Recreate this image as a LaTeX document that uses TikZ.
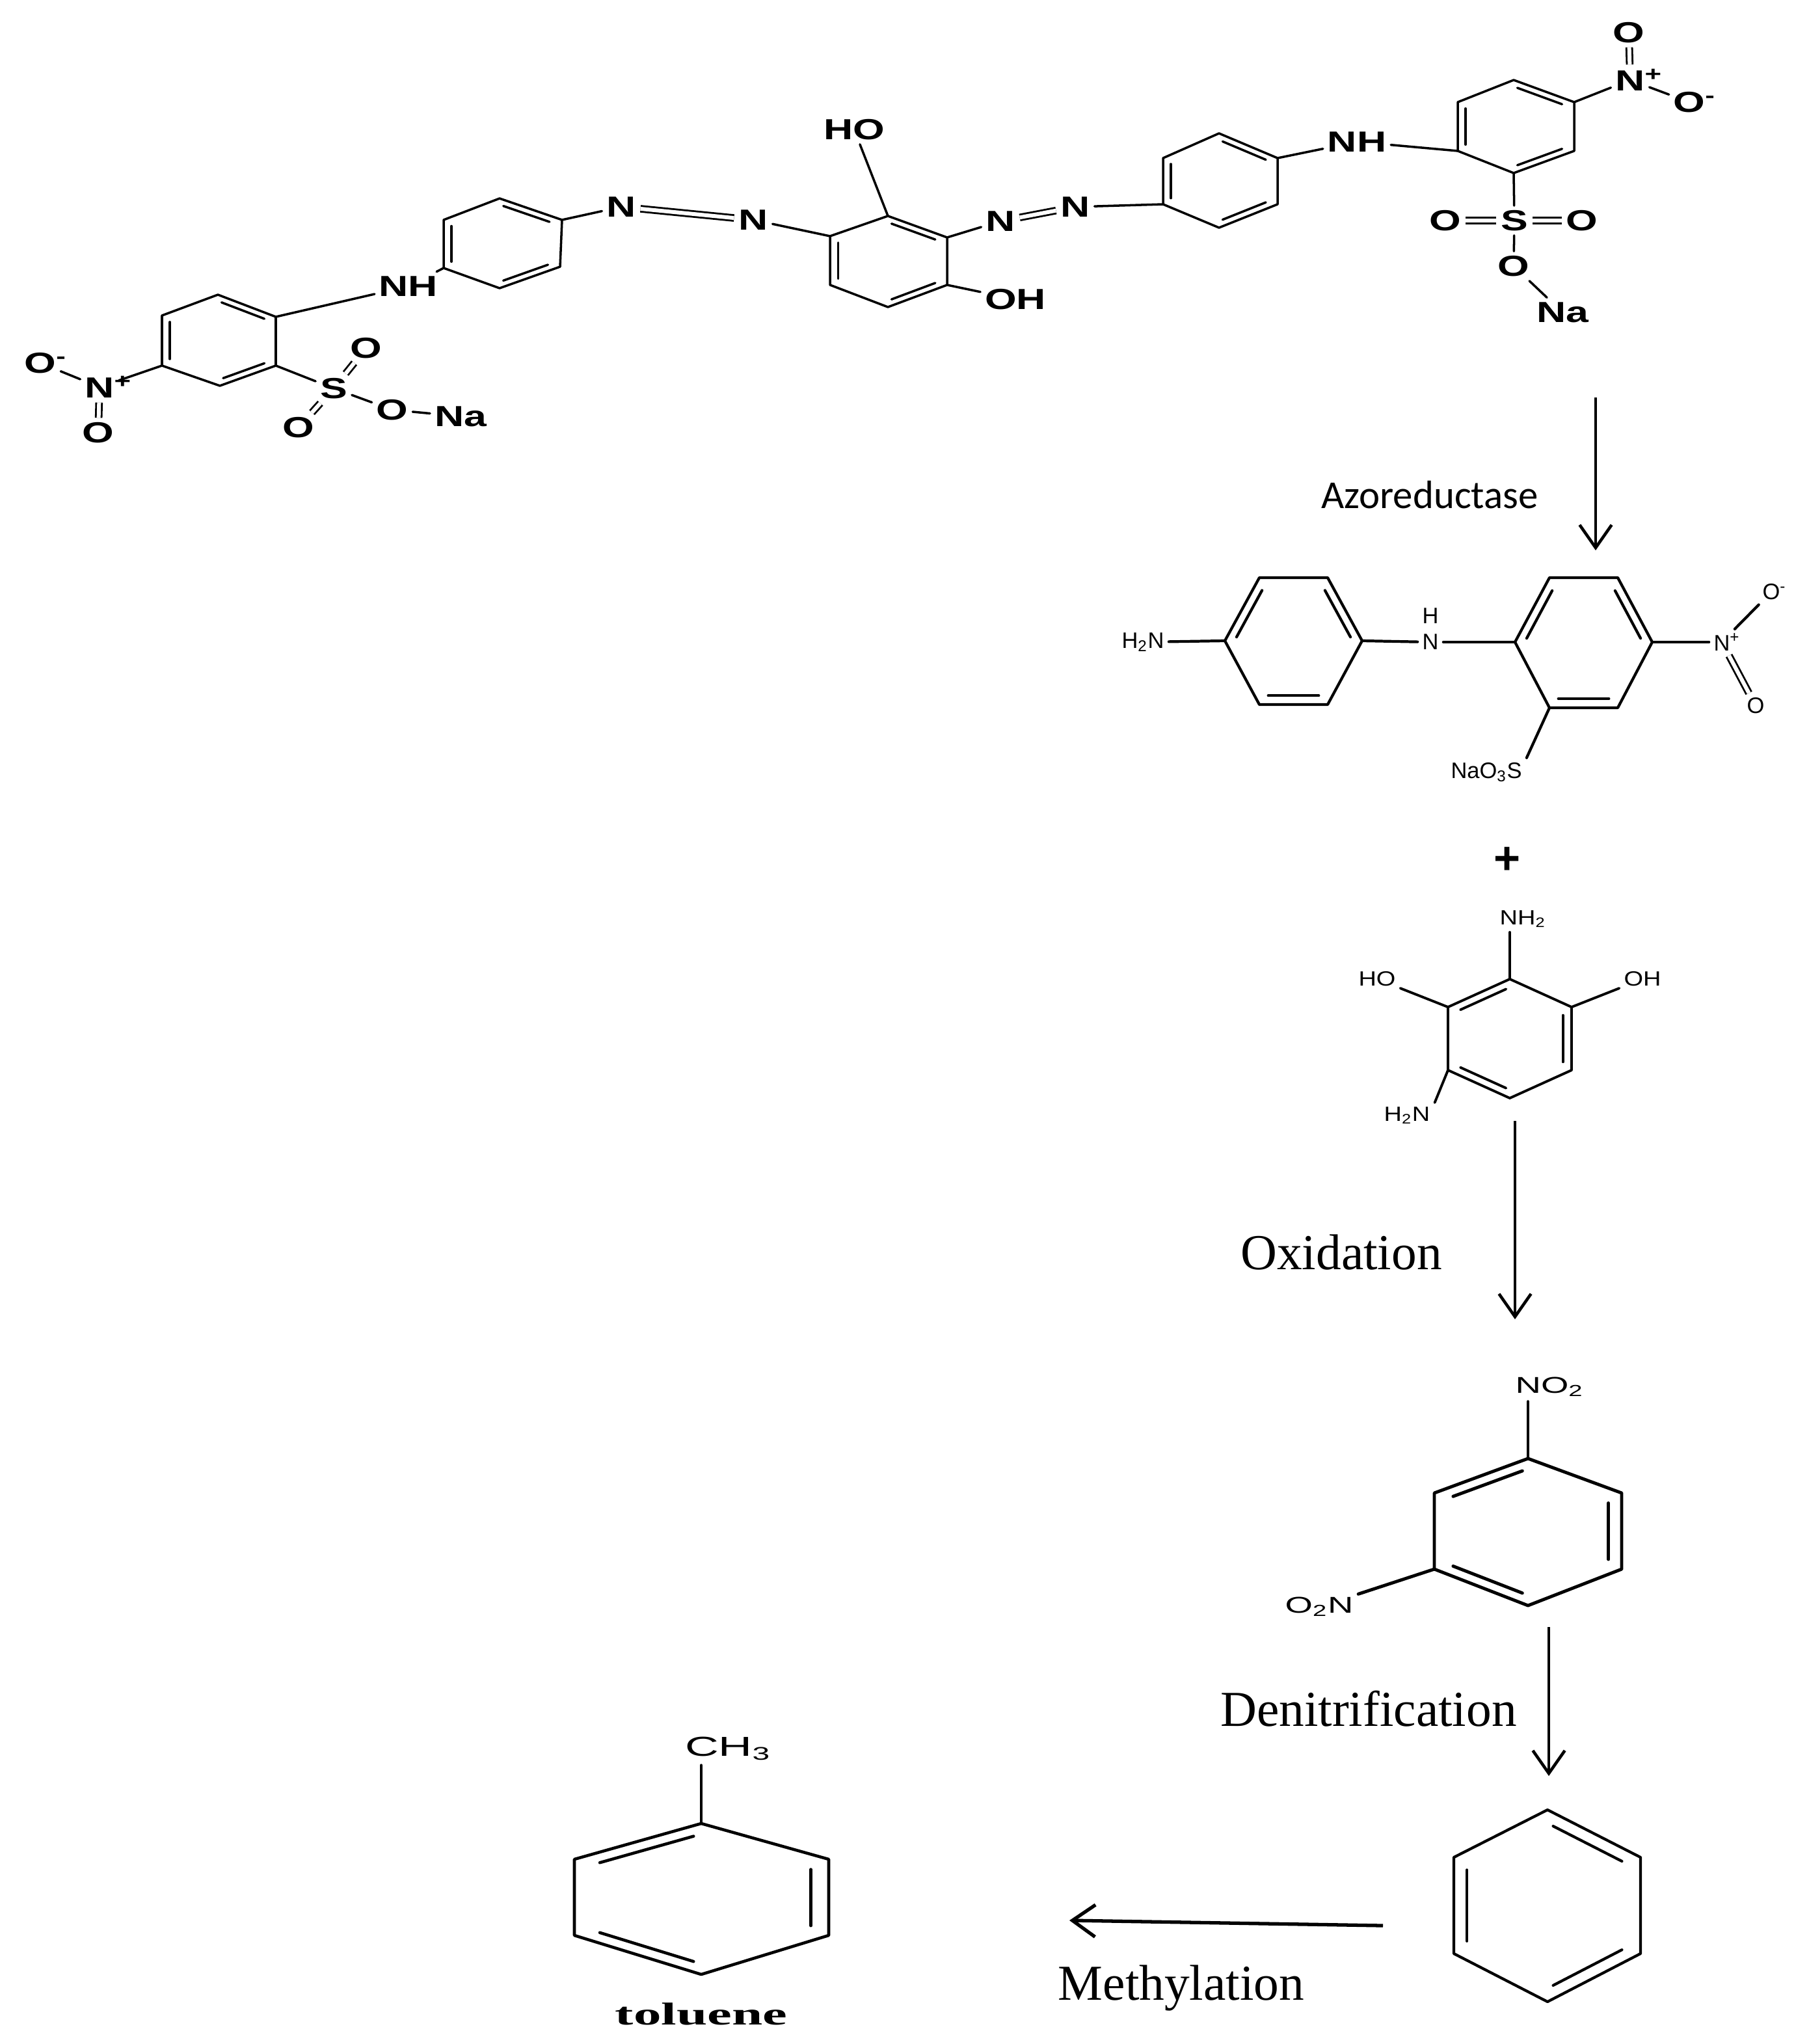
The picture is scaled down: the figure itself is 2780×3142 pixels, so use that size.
\documentclass[tikz,border=0pt]{standalone}
\usepackage{fontspec}
\usepackage{tikz}
\usetikzlibrary{arrows.meta,calc}
\setmainfont{Liberation Serif}
\newfontfamily\topfont[FakeStretch=1.4]{Liberation Sans}
\newfontfamily\thinfont{Liberation Sans}
\newfontfamily\midfont[FakeStretch=1.2]{Liberation Sans}
\newfontfamily\widefont[FakeStretch=1.55]{Liberation Sans}
\newfontfamily\tallfont[FakeStretch=1.7]{Liberation Sans}
\newfontfamily\enzfont{Carlito}
\newfontfamily\namefont[FakeStretch=1.75]{Liberation Serif}

% six corners in drawing order, plus the ring centre
\newcommand{\ringsix}[7]{
  \coordinate (#1-1) at (#2);
  \coordinate (#1-2) at (#3);
  \coordinate (#1-3) at (#4);
  \coordinate (#1-4) at (#5);
  \coordinate (#1-5) at (#6);
  \coordinate (#1-6) at (#7);
  \coordinate (#1-c) at ($(#1-1)!0.5!(#1-4)$);
  \draw[bond] (#1-1) -- (#1-2) -- (#1-3) -- (#1-4) -- (#1-5) -- (#1-6) -- cycle;
}
% inner line of a ring double bond
\newcommand{\innerbond}[3]{
  \draw[bond] ($(#1-#2)!0.07!(#1-#3)!0.14!(#1-c)$) -- ($(#1-#3)!0.07!(#1-#2)!0.14!(#1-c)$);
}

\begin{document}
\begin{tikzpicture}[
    x=0.01cm, y=-0.01cm,
    bond/.style={line cap=round, line join=round},
    dblbond/.style={double, double distance=1.7pt, line width=0.8pt},
    atom/.style={inner sep=1.5pt, font=\topfont\bfseries\fontsize{12.7}{14}\selectfont},
    smallatom/.style={inner sep=1.5pt, font=\thinfont\fontsize{9.8}{11}\selectfont},
    midatom/.style={inner sep=1.5pt, font=\midfont\fontsize{9}{10}\selectfont},
    wideatom/.style={inner sep=1.5pt, font=\widefont\fontsize{10}{11}\selectfont},
    tallatom/.style={inner sep=1.5pt, font=\tallfont\fontsize{12}{13}\selectfont},
    step label/.style={inner sep=0pt, font=\fontsize{22}{24}\selectfont},
    react/.style={-{Straight Barb[length=10pt,width=14pt]}, line width=1.3pt},
    line width=1pt
]
\useasboundingbox (0,0) rectangle (2780,3142);

% Top molecule: rings left to right
\ringsix{ringa}{335,453}{424,487}{424,562}{338,593}{249,562}{249,485}
\innerbond{ringa}{1}{2} \innerbond{ringa}{3}{4} \innerbond{ringa}{5}{6}
\ringsix{ringb}{768,305}{864,338}{861,410}{768,443}{682,412}{682,338}
\innerbond{ringb}{1}{2} \innerbond{ringb}{3}{4} \innerbond{ringb}{5}{6}
\ringsix{ringc}{1365,332}{1456,365}{1456,438}{1365,472}{1276,438}{1276,363}
\innerbond{ringc}{1}{2} \innerbond{ringc}{3}{4} \innerbond{ringc}{5}{6}
\ringsix{ringd}{1874,205}{1964,243}{1964,314}{1874,350}{1788,314}{1788,243}
\innerbond{ringd}{1}{2} \innerbond{ringd}{3}{4} \innerbond{ringd}{5}{6}
\ringsix{ringe}{2327,123}{2420,157}{2420,232}{2327,266}{2241,232}{2241,157}
\innerbond{ringe}{1}{2} \innerbond{ringe}{3}{4} \innerbond{ringe}{5}{6}

% Top molecule: atoms
\node[atom] (oxa) at (62,558) {O\rlap{\textsuperscript{-}}};
\node[atom] (nia) at (153,595) {N\rlap{\textsuperscript{+}}};
\node[atom] (oxb) at (151,665) {O};
\node[atom] (sua) at (513,597) {S};
\node[atom] (oxc) at (563,535) {O};
\node[atom] (oxd) at (459,657) {O};
\node[atom] (oxe) at (603,630) {O};
\node[atom] (naa) at (708,640) {Na};
\node[atom] (nha) at (628,440) {NH};
\node[atom] (aza) at (955,318) {N};
\node[atom] (azb) at (1158,338) {N};
\node[atom] (hoa) at (1313,199) {HO};
\node[atom] (oha) at (1561,460) {OH};
\node[atom] (azc) at (1538,340) {N};
\node[atom] (azd) at (1653,318) {N};
\node[atom] (nhb) at (2086,218) {NH};
\node[atom] (nib) at (2506,123) {N\rlap{\textsuperscript{+}}};
\node[atom] (oxf) at (2504,50) {O};
\node[atom] (oxg) at (2597,157) {O\rlap{\textsuperscript{-}}};
\node[atom] (sub) at (2328,339) {S};
\node[atom] (oxh) at (2222,339) {O};
\node[atom] (oxi) at (2432,339) {O};
\node[atom] (oxj) at (2327,409) {O};
\node[atom] (nab) at (2402,480) {Na};

% Top molecule: bonds
\draw[bond] (oxa) -- (nia);
\draw[dblbond] (nia) -- (oxb);
\draw[bond] (nia) -- (ringa-5);
\draw[bond] (ringa-3) -- (sua);
\draw[dblbond] (sua) -- (oxc);
\draw[dblbond] (sua) -- (oxd);
\draw[bond] (sua) -- (oxe);
\draw[bond] (oxe) -- (naa);
\draw[bond] (ringa-2) -- (nha);
\draw[bond] (nha) -- (ringb-5);
\draw[bond] (ringb-2) -- (aza);
\draw[dblbond] (aza) -- (azb);
\draw[bond] (azb) -- (ringc-6);
\draw[bond] (hoa) -- (ringc-1);
\draw[bond] (ringc-3) -- (oha);
\draw[bond] (ringc-2) -- (azc);
\draw[dblbond] (azc) -- (azd);
\draw[bond] (azd) -- (ringd-5);
\draw[bond] (ringd-2) -- (nhb);
\draw[bond] (nhb) -- (ringe-5);
\draw[bond] (ringe-2) -- (nib);
\draw[dblbond] (nib) -- (oxf);
\draw[bond] (nib) -- (oxg);
\draw[bond] (ringe-4) -- (sub);
\draw[dblbond] (sub) -- (oxh);
\draw[dblbond] (sub) -- (oxi);
\draw[bond] (sub) -- (oxj);
\draw[bond] (oxj) -- (nab);

% Azoreductase step
\coordinate (azostart) at (2453,611);
\coordinate (azoend) at (2453,846);
\draw[react] (azostart) -- (azoend);
\node[inner sep=0pt, font=\enzfont\fontsize{17.3}{19}\selectfont] (azolabel) at (2198,761) {Azoreductase};

% First product
\begin{scope}[line width=1.2pt]
\ringsix{ringf}{1936,888}{2041,888}{2094,985}{2041,1083}{1936,1083}{1883,985}
\innerbond{ringf}{1}{6} \innerbond{ringf}{2}{3} \innerbond{ringf}{4}{5}
\ringsix{ringg}{2382,888}{2487,888}{2540,987}{2487,1088}{2382,1088}{2329,987}
\innerbond{ringg}{1}{6} \innerbond{ringg}{2}{3} \innerbond{ringg}{4}{5}
\node[smallatom] (hna) at (1757,987) {H\textsubscript{2}N};
\node[smallatom] (nhc) at (2199,987) {N};
\node[smallatom] (hyc) at (2199,947) {H};
\node[smallatom] (nic) at (2647,987) {N\rlap{\textsuperscript{+}}};
\node[smallatom] (oxk) at (2723,910) {O\rlap{\textsuperscript{-}}};
\node[smallatom] (oxl) at (2699,1085) {O};
\node[smallatom] (naso) at (2285,1187) {NaO\textsubscript{3}S};
\draw[bond] (hna) -- (ringf-6);
\draw[bond] (ringf-3) -- (nhc);
\draw[bond] (nhc) -- (ringg-6);
\draw[bond] (ringg-3) -- (nic);
\draw[bond] (nic) -- (oxk);
\draw[dblbond] (nic) -- (oxl);
\draw[bond] (ringg-5) -- (naso.north east);
\end{scope}

% Plus sign
\node[inner sep=0pt, font=\thinfont\bfseries\fontsize{20}{22}\selectfont] (plus) at (2317,1323) {+};

% Second product
\begin{scope}[line width=1.1pt]
\ringsix{ringh}{2321,1505}{2416,1548}{2416,1645}{2321,1688}{2226,1645}{2226,1548}
\innerbond{ringh}{1}{6} \innerbond{ringh}{2}{3} \innerbond{ringh}{4}{5}
\node[midatom] (nhd) at (2341,1413) {NH\textsubscript{2}};
\node[midatom] (hob) at (2117,1505) {HO};
\node[midatom] (ohb) at (2525,1505) {OH};
\node[midatom] (hnb) at (2163,1715) {H\textsubscript{2}N};
\draw[bond] (ringh-1) -- (ringh-1 |- nhd.south);
\draw[bond] (hob) -- (ringh-6);
\draw[bond] (ringh-2) -- (ohb);
\draw[bond] (ringh-5) -- (hnb.north east);
\end{scope}

% Oxidation step
\coordinate (oxstart) at (2329,1723);
\coordinate (oxend) at (2329,2028);
\draw[react] (oxstart) -- (oxend);
\node[step label] (oxlabel) at (2062,1925) {Oxidation};

% Dinitrobenzene
\begin{scope}[line width=1.4pt]
\ringsix{ringi}{2349,2242}{2493,2295}{2493,2412}{2349,2468}{2205,2412}{2205,2295}
\innerbond{ringi}{1}{6} \innerbond{ringi}{2}{3} \innerbond{ringi}{4}{5}
\node[wideatom] (noa) at (2382,2132) {NO\textsubscript{2}};
\node[wideatom] (nob) at (2028,2470) {O\textsubscript{2}N};
\draw[bond] (ringi-1) -- (ringi-1 |- noa.south);
\draw[bond] (ringi-5) -- (nob);
\end{scope}

% Denitrification step
\coordinate (destart) at (2381,2501);
\coordinate (deend) at (2381,2730);
\draw[react] (destart) -- (deend);
\node[step label] (delabel) at (2104,2627) {Denitrification};

% Benzene
\begin{scope}[line width=1.2pt]
\ringsix{ringj}{2379,2782}{2522,2855}{2522,3003}{2379,3077}{2235,3003}{2235,2855}
\innerbond{ringj}{1}{2} \innerbond{ringj}{3}{4} \innerbond{ringj}{5}{6}
\end{scope}

% Methylation step
\coordinate (mestart) at (2126,2960);
\coordinate (meend) at (1644,2952);
\draw[react, line width=1.5pt] (mestart) -- (meend);
\node[step label] (melabel) at (1816,3056) {Methylation};

% Toluene
\begin{scope}[line width=1.3pt]
\ringsix{ringk}{1078,2803}{1274,2858}{1274,2975}{1078,3035}{883,2975}{883,2858}
\innerbond{ringk}{1}{6} \innerbond{ringk}{2}{3} \innerbond{ringk}{4}{5}
\node[tallatom] (chm) at (1119,2688) {CH\textsubscript{3}};
\draw[bond] (ringk-1) -- (ringk-1 |- chm.south);
\node[inner sep=0pt, font=\namefont\bfseries\fontsize{13.8}{15}\selectfont] (tolabel) at (1078,3096) {toluene};
\end{scope}
\end{tikzpicture}
\end{document}
